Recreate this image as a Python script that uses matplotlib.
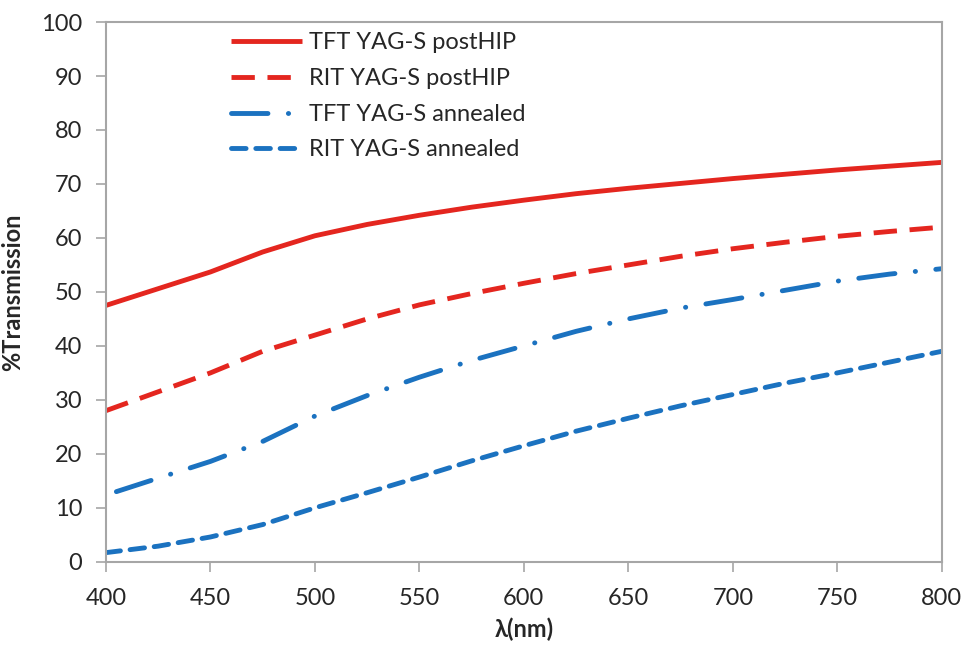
import matplotlib
matplotlib.use("Agg")
import matplotlib.pyplot as plt

plt.rcParams['font.family'] = ['Lato', 'DejaVu Sans']

wavelength = [400, 425, 450, 475, 500, 525, 550, 575, 600, 625, 650, 675, 700, 725, 750, 775, 800]
tft_post = [47.5, 50.6, 53.7, 57.4, 60.4, 62.5, 64.2, 65.7, 67.0, 68.2, 69.2, 70.1, 71.0, 71.8, 72.6, 73.3, 74.0]
rit_post = [28.0, 31.5, 35.0, 39.0, 42.0, 45.0, 47.6, 49.7, 51.6, 53.4, 55.0, 56.6, 58.0, 59.2, 60.3, 61.2, 62.0]
dash_x = [405, 425, 450, 475, 500, 525, 550, 575, 600, 625, 650, 675, 700, 725, 750, 775, 800]
tft_ann = [13.0, 15.5, 18.6, 22.3, 27.0, 30.8, 34.2, 37.3, 40.0, 42.7, 45.0, 47.0, 48.6, 50.3, 52.0, 53.3, 54.3]
rit_ann = [1.7, 2.9, 4.6, 6.9, 10.0, 12.8, 15.7, 18.7, 21.5, 24.2, 26.6, 28.9, 31.0, 33.1, 35.0, 37.0, 39.0]
xticks = list(range(400, 801, 50))
yticks = list(range(0, 101, 10))

red = '#E4261F'
blue = '#1B72C0'
grey = '#A6A6A6'

fig = plt.figure(figsize=(9.63, 6.48), dpi=100)
ax = fig.add_axes([0.110, 0.133, 0.868, 0.833])

ax.plot(wavelength, tft_post, color=red, lw=3.5, solid_capstyle='butt',
        label='TFT YAG-S postHIP')
ax.plot(wavelength, rit_post, color=red, lw=3.5, linestyle=(0, (4.8, 2.6)),
        dash_capstyle='butt', label='RIT YAG-S postHIP')
ax.plot(dash_x, tft_ann, color=blue, lw=3.5, linestyle=(0, (7.5, 4.2, 0.05, 4.2)),
        dash_capstyle='round', label='TFT YAG-S annealed')
ax.plot(wavelength, rit_ann, color=blue, lw=3.5, linestyle=(0, (3.0, 2.0)),
        dash_capstyle='round', label='RIT YAG-S annealed')

ax.set_xlim(400, 800)
ax.set_ylim(0, 100)
ax.set_xticks(xticks)
ax.set_yticks(yticks)
ax.tick_params(direction='out', length=7, width=1.2, color=grey,
               labelsize=17, labelcolor='#262626')
ax.tick_params(axis='x', pad=12)
ax.tick_params(axis='y', pad=10)
for s in ax.spines.values():
    s.set_color(grey)
    s.set_linewidth(1.5)

ax.set_xlabel('λ(nm)', fontsize=17, fontweight='bold', color='#262626', labelpad=6)
ax.set_ylabel('%Transmission', fontsize=17, fontweight='bold', color='#262626', labelpad=12)

ax.legend(loc='upper left', bbox_to_anchor=(0.124, 1.02), frameon=False,
          fontsize=17, handlelength=3.0, handletextpad=0.3, labelspacing=0.62,
          labelcolor='#262626')

fig.savefig('out.png', dpi=100)
